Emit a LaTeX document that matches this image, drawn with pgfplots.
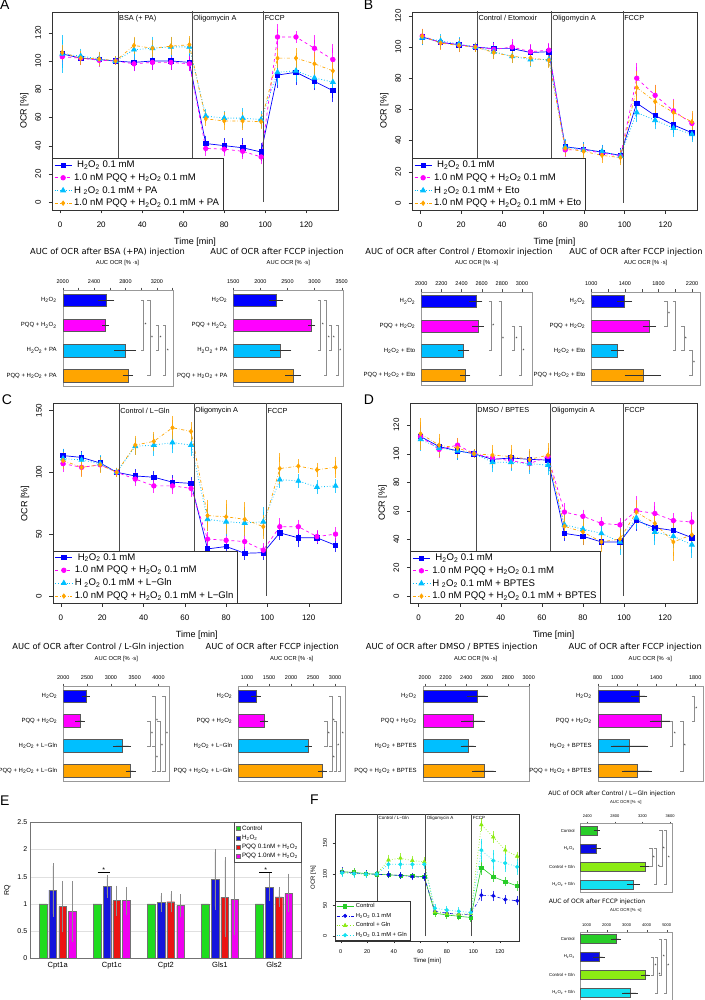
\documentclass[border=0pt]{standalone}
\usepackage{fontspec}
\setmainfont{Liberation Sans}
\newfontfamily\dv{DejaVu Sans}
\usepackage{pgfplots}
\usepackage{pgfplotstable}
\pgfplotsset{compat=1.18}

\definecolor{cB}{RGB}{0,0,255}
\definecolor{cM}{RGB}{255,0,255}
\definecolor{cC}{RGB}{0,191,255}
\definecolor{cO}{RGB}{255,165,0}
\definecolor{fG}{RGB}{40,205,40}
\definecolor{fB}{RGB}{10,10,230}
\definecolor{fY}{RGB}{140,235,20}
\definecolor{fC}{RGB}{20,225,240}
\definecolor{eG}{RGB}{30,220,30}
\definecolor{eB}{RGB}{20,20,220}
\definecolor{eR}{RGB}{235,20,20}
\definecolor{eM}{RGB}{240,0,240}

\newcommand\fs[1]{\fontsize{#1}{#1}\selectfont}
\newcommand\HH{H\textsubscript{2}O\textsubscript{2}}

% OCR time courses: t, then value/error for the four series
\pgfplotstableread{
t a ae b be c ce d de
1 105 2.5 103 2.5 105 10 106 2
10 102 1.5 102 1.5 103.5 2 102 2
19 101 1.5 100.5 1.5 101.5 2 101.5 2
27 100 0 100 0 100 0 100 0
36 99 3 98 2 108 5 111 3
45 100 3 99 2 109 5 109 3
54 100 3 99 2 110 4 110.5 3
63 99 3 98 2 110 3 111.5 3
71 41.5 2.5 38 2 61 2 59 2
80 40 2 37.5 2 59.5 2 57.5 3
89 38.5 3.5 36 2 59.5 4 57.5 3
98 35.5 3.5 32 2 58.5 3 57 2
106 90 6 117 6 92 6 102 4
115 92 6 117 1 93 5 102 4
124 85.5 3 109 6 88 4 98 5
133 79 5 101 8 85 4 93 4
}\tA
\pgfplotstableread{
t a ae b be c ce d de
1 106.5 2 107 2 106 2 107 2
10 103 1.5 103 1.5 104 1.5 102.5 1.5
19 101.5 1.5 101.5 1.5 102 1.5 101 1.5
27 100 0 100 0 100 0 100 0
36 99 1.5 98.5 1.5 97 1.5 96.5 1.5
45 99 1.5 100 2 94 1.5 94 1.5
54 96.5 2 97 2 92 2 93 2
63 97 2 98 2 92 2 91.5 2
71 36 1.5 34 1.5 36 2 35 2
80 34.5 1.5 34 1.5 34 2 33 2
89 32.5 1.5 32 1.5 33 1.5 30.5 2
98 30.5 1.5 30 1.5 30 1.5 29 2
106 64 6 80 7 58 3 74 8
115 56 3 69 4 53 3 65 8
124 50 2 59 5 48 3 58 5
133 45 2 51 4 44 2 52 4
}\tB
\pgfplotstableread{
t a ae b be c ce d de
1 113.5 2 107 3 111 4 109.5 3
10 112 1.5 104 3 110 3 104 4
19 107.5 2 106 2 107 3 106 3
27 100 0 100 0 100 0 100 0
36 97 2 94.5 2 121 3 122 4
45 96 1.5 89 2 122 5 125 4
54 92 2 89 3 124 5 136 6
63 91 1.5 87 3 122 5 133 4
71 38 4 46 2 62 6 65 9
80 40 2 45 2 60 8 64 10
89 34.5 1.5 44 2 59 7 62 10
98 35 2 37 2 60 8 56 6
106 51 2 56 3 94 3 103 9
115 47 4 56 2 93 2 105 2
124 47 1.5 48 1.5 88 2 102 2
133 41 2 50 2 89 2 104 5
}\tC
\pgfplotstableread{
t a ae b be c ce d de
1 112 5 112 4 110 5 114 8
10 105 3 103 3 104 3 106 5
19 102 3 106 2 102 3 104 4
27 100 0 100 0 100 0 100 0
36 96 3 97 2 94 4 99 4
45 97 3 95 3 94 3 98 5
54 96 3 93 3 93 4 96 4
63 95.5 3 98 3 92 4 99 5
71 44 2 59 3 50 5 49 5
80 42 3 56 1.5 47 4 45 6
89 38 2 51 1.5 44 4 38 4
98 38 2 50 1.5 38 6 40 4
106 53 4 60 7 55 5 59 5
115 48 4 58 5 45 6 51 5
124 46 3 53 2 42 5 38 10
133 41 3 52 4 36 6 43 5
}\tD
\pgfplotstableread{
t a ae b be c ce d de
1 104 2 104 3 103 2 102 2
10 103 2 102 2 102 2 101 2
19 101 1 100.5 1 100 1 100 1
27 100 0 100 0 100 0 100 0
36 99 1 99 1 123 4 116 3
45 98 1 98 1 126 3 116 3
54 97 1 96 1 122 3 116 3
63 96 1 95 2 120 3 116 3
71 37 2 40 2 39 2 45 2
80 34 2 37 2 36 2 42 2
89 32 2 35 2 35 2 40 2
98 30 2 35 2 36 2 38 2
106 111 7 66 5 180 6 139 14
115 96 4 65 4 160 5 122 13
124 88 3 59 3 139 4 118 10
133 81 3 57 3 129 3 112 8
}\tF

\tikzset{
  lab/.style={anchor=west, font=\fs{7.3}, inner sep=1pt},
  vln/.style={black!70, line width=0.5pt},
}
\pgfplotsset{
  every axis/.append style={/pgf/number format/assume math mode=true,
    /pgf/number format/1000 sep={}, scaled ticks=false},
  ocr/.style={scale only axis, anchor=north west, xmin=-4, xmax=135.5,
    xtick={0,20,...,120}, tick align=outside, tick pos=left,
    major tick length=3.5pt, axis line style={black!80}, tick style={black!80},
    tick label style={font=\fs{8}}, yticklabel style={rotate=90, anchor=south},
    xticklabel shift=5pt, yticklabel shift=4pt,
    xlabel={Time [min]}, ylabel={OCR [\%]}, label style={font=\fs{9}},
    xlabel style={yshift=-3pt},
    legend cell align=left,
    legend style={at={(0,0)}, anchor=south west, draw=black!80, font=\fs{9.6},
      inner ysep=0.5pt, inner xsep=2pt, row sep=0.5pt}},
  eb/.style 2 args={/pgfplots/error bars/y dir=both, /pgfplots/error bars/y explicit,
    /pgfplots/error bars/error bar style={#1, solid, opacity=0.8, line width=0.8pt},
    /pgfplots/error bars/error mark options={#1, solid, opacity=0.8, mark size=#2, line width=0.8pt}},
  s1/.style={cB, solid, line width=0.7pt, mark=square*, mark size=2.2pt, mark options={solid}, eb={cB}{4.5pt}},
  s2/.style={cM, dashed, line width=0.7pt, mark=*, mark size=2.3pt, mark options={solid}, eb={cM}{4.5pt}},
  s3/.style={cC, dotted, line width=0.8pt, mark=triangle*, mark size=2.8pt, mark options={solid}, eb={cC}{4.5pt}},
  s4/.style={cO, dash dot, line width=0.7pt, mark=diamond*, mark size=2.2pt, mark options={solid}, eb={cO}{4.5pt}},
  f1/.style={fG, solid, line width=0.6pt, mark=square*, mark size=1.6pt, mark options={solid}, eb={fG}{2.8pt}},
  f2/.style={fB, dash dot, line width=0.6pt, mark=*, mark size=1.7pt, mark options={solid}, eb={fB}{2.8pt}},
  f3/.style={fY, dotted, line width=0.7pt, mark=triangle*, mark size=2pt, mark options={solid}, eb={fY}{2.8pt}},
  f4/.style={fC, dotted, line width=0.7pt, mark=*, mark size=1.7pt, mark options={solid}, eb={fC}{2.8pt}},
  auc/.style={xbar, scale only axis, anchor=north west, y dir=reverse, ymin=0.6, ymax=4.4,
    ytick={1,2,3,4}, tick align=outside, xtick pos=right, xticklabel pos=right,
    ytick style={draw=none}, axis line style={black!40}, xtick style={black!70},
    major tick length=2.5pt, xticklabel style={font=\fs{5.5}}, yticklabel style={font=\fs{6}}},
  bb/.style={fill=#1, draw=black!65, line width=0.4pt, bar shift=0pt, bar width=0.5,
    /pgfplots/error bars/x dir=both, /pgfplots/error bars/x explicit,
    /pgfplots/error bars/error bar style={black!80, line width=0.45pt},
    /pgfplots/error bars/error mark options={black!80, mark size=2.5pt, line width=0.45pt}},
  ebar/.style={fill=#1, draw=black!55, line width=0.35pt, bar width=0.142,
    legend image code/.code={\draw[fill=#1, draw=black!55, line width=0.35pt] (0pt,-2pt) rectangle (4pt,2pt);}},
  eeb/.style={/pgfplots/error bars/y dir=both, /pgfplots/error bars/y explicit,
    /pgfplots/error bars/error bar style={black!45, line width=0.5pt},
    /pgfplots/error bars/error mark options={black!45, mark size=3pt, line width=0.5pt}},
}

% significance bracket: x, from bar, to bar, mark
\newcommand\brk[4]{%
  \draw[black!45, line width=0.4pt] ([xshift=-2.5pt]axis cs:#1,#2) -- (axis cs:#1,#2)
    -- (axis cs:#1,#3) -- ([xshift=-2.5pt]axis cs:#1,#3);
  \path (axis cs:#1,#2) -- (axis cs:#1,#3) node[midway, xshift=2.2pt, font=\fs{5}, inner sep=0pt] {#4};}

\begin{document}
\begin{tikzpicture}
\path[use as bounding box] (0pt,0pt) rectangle (704pt,-1000pt);

% panel letters
\node[font=\fs{14}, anchor=base west, inner sep=0pt] at (0pt,-10pt) {A};
\node[font=\fs{14}, anchor=base west, inner sep=0pt] at (363.7pt,-10pt) {B};
\node[font=\fs{14}, anchor=base west, inner sep=0pt] at (1.7pt,-404pt) {C};
\node[font=\fs{14}, anchor=base west, inner sep=0pt] at (363.7pt,-404pt) {D};
\node[font=\fs{14}, anchor=base west, inner sep=0pt] at (0pt,-805pt) {E};
\node[font=\fs{14}, anchor=base west, inner sep=0pt] at (310pt,-804pt) {F};

% ---------- A ----------
\begin{axis}[ocr, at={(52pt,-12pt)}, width=286pt, height=198pt,
  ymin=-5.6, ymax=134.7, ytick={0,20,...,120}]
\addplot[s1] table[x=t,y=a,y error=ae]{\tA}; \addlegendentry{\hspace{3pt}\HH{} 0.1 mM}
\addplot[s2] table[x=t,y=b,y error=be]{\tA}; \addlegendentry{1.0 nM PQQ + \HH{} 0.1 mM}
\addplot[s3] table[x=t,y=c,y error=ce]{\tA}; \addlegendentry{H \textsubscript{2}O\textsubscript{2} 0.1 mM + PA}
\addplot[s4] table[x=t,y=d,y error=de]{\tA}; \addlegendentry{1.0 nM PQQ + \HH{} 0.1 mM + PA}
\draw[vln] (axis cs:28.2,0) -- (axis cs:28.2,140) (axis cs:64.4,0) -- (axis cs:64.4,140) (axis cs:99.2,0) -- (axis cs:99.2,140);
\node[lab] at (axis cs:28.2,130.2) {BSA (+ PA)};
\node[lab] at (axis cs:64.4,130.2) {Oligomycin A};
\node[lab] at (axis cs:99.2,130.2) {FCCP};
\end{axis}

% ---------- B ----------
\begin{axis}[ocr, at={(412pt,-12pt)}, width=285pt, height=198pt,
  ymin=-4.6, ymax=122.5, ytick={0,20,...,120}]
\addplot[s1] table[x=t,y=a,y error=ae]{\tB}; \addlegendentry{\hspace{3pt}\HH{} 0.1 mM}
\addplot[s2] table[x=t,y=b,y error=be]{\tB}; \addlegendentry{1.0 nM PQQ + \HH{} 0.1 mM}
\addplot[s3] table[x=t,y=c,y error=ce]{\tB}; \addlegendentry{H \textsubscript{2}O\textsubscript{2} 0.1 mM + Eto}
\addplot[s4] table[x=t,y=d,y error=de]{\tB}; \addlegendentry{1.0 nM PQQ + \HH{} 0.1 mM + Eto}
\draw[vln] (axis cs:28,0) -- (axis cs:28,130) (axis cs:64.3,0) -- (axis cs:64.3,130) (axis cs:99.3,0) -- (axis cs:99.3,130);
\node[lab] at (axis cs:28,118.5) {Control / Etomoxir};
\node[lab] at (axis cs:64.3,118.5) {Oligomycin A};
\node[lab] at (axis cs:99.3,118.5) {FCCP};
\end{axis}

% ---------- C ----------
\begin{axis}[ocr, at={(52.7pt,-403.5pt)}, width=288pt, height=199.5pt,
  ymin=-5.7, ymax=155.6, ytick={0,50,100,150}]
\addplot[s1] table[x=t,y=a,y error=ae]{\tC}; \addlegendentry{\hspace{3pt}\HH{} 0.1 mM}
\addplot[s2] table[x=t,y=b,y error=be]{\tC}; \addlegendentry{1.0 nM PQQ + \HH{} 0.1 mM}
\addplot[s3] table[x=t,y=c,y error=ce]{\tC}; \addlegendentry{H \textsubscript{2}O\textsubscript{2} 0.1 mM + L−Gln}
\addplot[s4] table[x=t,y=d,y error=de]{\tC}; \addlegendentry{1.0 nM PQQ + \HH{} 0.1 mM + L−Gln}
\draw[vln] (axis cs:28.2,0) -- (axis cs:28.2,160) (axis cs:64.4,0) -- (axis cs:64.4,160) (axis cs:99.5,0) -- (axis cs:99.5,160);
\node[lab] at (axis cs:28.2,149.7) {Control / L−Gln};
\node[lab] at (axis cs:64.4,149.7) {Oligomycin A};
\node[lab] at (axis cs:99.5,149.7) {FCCP};
\end{axis}

% ---------- D ----------
\begin{axis}[ocr, at={(410.3pt,-403pt)}, width=286.7pt, height=200pt,
  ymin=-4.9, ymax=135.6, ytick={0,20,...,120}]
\addplot[s1] table[x=t,y=a,y error=ae]{\tD}; \addlegendentry{\hspace{3pt}\HH{} 0.1 mM}
\addplot[s2] table[x=t,y=b,y error=be]{\tD}; \addlegendentry{1.0 nM PQQ + \HH{} 0.1 mM}
\addplot[s3] table[x=t,y=c,y error=ce]{\tD}; \addlegendentry{H \textsubscript{2}O\textsubscript{2} 0.1 mM + BPTES}
\addplot[s4] table[x=t,y=d,y error=de]{\tD}; \addlegendentry{1.0 nM PQQ + \HH{} 0.1 mM + BPTES}
\draw[vln] (axis cs:28,0) -- (axis cs:28,140) (axis cs:64.2,0) -- (axis cs:64.2,140) (axis cs:99.8,0) -- (axis cs:99.8,140);
\node[lab] at (axis cs:28,130.5) {DMSO / BPTES};
\node[lab] at (axis cs:64.2,130.5) {Oligomycin A};
\node[lab] at (axis cs:99.8,130.5) {FCCP};
\end{axis}

% ---------- bar chart titles ----------
\node[font=\dv\fs{8.3}] at (107.5pt,-252pt) {AUC of OCR after BSA (+PA) injection};
\node[font=\fs{5.8}] at (117.5pt,-263pt) {AUC OCR [\% ·s]};
\node[font=\dv\fs{8.3}] at (277pt,-252pt) {AUC of OCR after FCCP injection};
\node[font=\fs{5.8}] at (288.3pt,-263pt) {AUC OCR [\% ·s]};
\node[font=\dv\fs{8.3}] at (459pt,-252pt) {AUC of OCR after Control / Etomoxir injection};
\node[font=\fs{5.8}] at (476.7pt,-263pt) {AUC OCR [\% ·s]};
\node[font=\dv\fs{8.3}] at (636pt,-252pt) {AUC of OCR after FCCP injection};
\node[font=\fs{5.8}] at (645.7pt,-263pt) {AUC OCR [\% ·s]};
\node[font=\dv\fs{8.3}] at (98.3pt,-647.3pt) {AUC of OCR after Control / L-Gln injection};
\node[font=\fs{5.8}] at (116.3pt,-659pt) {AUC OCR [\% ·s]};
\node[font=\dv\fs{8.3}] at (272.3pt,-647.3pt) {AUC of OCR after FCCP injection};
\node[font=\fs{5.8}] at (291.7pt,-659pt) {AUC OCR [\% ·s]};
\node[font=\dv\fs{8.3}] at (451.7pt,-647.3pt) {AUC of OCR after DMSO / BPTES injection};
\node[font=\fs{5.8}] at (475.7pt,-659pt) {AUC OCR [\% ·s]};
\node[font=\dv\fs{8.3}] at (635.3pt,-647.3pt) {AUC of OCR after FCCP injection};
\node[font=\fs{5.8}] at (650.3pt,-659pt) {AUC OCR [\% ·s]};
\node[font=\dv\fs{6}] at (611.7pt,-794pt) {AUC of OCR after Control / L−Gln injection};
\node[font=\fs{4.2}] at (625.8pt,-802.3pt) {AUC OCR [\% ·s]};
\node[font=\dv\fs{6}] at (597pt,-902.3pt) {AUC of OCR after FCCP injection};
\node[font=\fs{4.2}] at (625.8pt,-910.7pt) {AUC OCR [\% ·s]};

% ---------- A bars ----------
\begin{axis}[auc, at={(62.7pt,-290pt)}, width=110.6pt, height=95.7pt, xmin=2000, xmax=3409,
  xtick={2000,2200,2400,2600,2800,3000,3200,3400}, xticklabels={2000,,2400,,2800,,3200,},
  yticklabels={\HH, PQQ + \HH, \HH{} + PA, PQQ + \HH{} + PA}]
\addplot[bb=cB] coordinates {(2553,1) +- (75,0)};
\addplot[bb=cM] coordinates {(2545,2) +- (10,0)};
\addplot[bb=cC] coordinates {(2796,3) +- (106,0)};
\addplot[bb=cO] coordinates {(2830,4) +- (34,0)};
\brk{3027}{1}{3}{*}\brk{3112}{1}{4}{*}\brk{3218}{2}{3}{*}\brk{3312}{2}{4}{*}
\end{axis}
\begin{axis}[auc, at={(233.3pt,-290pt)}, width=110pt, height=95.7pt, xmin=1500, xmax=3530,
  xtick={1500,2000,2500,3000,3500},
  yticklabels={\HH, PQQ + \HH, \HH{} + PA, PQQ + \HH{} + PA}]
\addplot[bb=cB] coordinates {(2287,1) +- (86,0)};
\addplot[bb=cM] coordinates {(2945,2) +- (20,0)};
\addplot[bb=cC] coordinates {(2373,3) +- (154,0)};
\addplot[bb=cO] coordinates {(2607,4) +- (100,0)};
\brk{3112}{1}{3}{*}\brk{3223}{1}{4}{*}\brk{3315}{2}{3}{*}\brk{3437}{2}{4}{*}
\end{axis}

% ---------- B bars ----------
\begin{axis}[auc, at={(421.3pt,-291.7pt)}, width=110.7pt, height=93.3pt, xmin=2000, xmax=3100,
  xtick={2000,2200,...,3000},
  yticklabels={\HH, PQQ + \HH, \HH{} + Eto, PQQ + \HH{} + Eto}]
\addplot[bb=cB] coordinates {(2543,1) +- (40,0)};
\addplot[bb=cM] coordinates {(2563,2) +- (33,0)};
\addplot[bb=cC] coordinates {(2421,3) +- (33,0)};
\addplot[bb=cO] coordinates {(2437,4) +- (26,0)};
\brk{2695}{1}{3}{*}\brk{2792}{1}{4}{*}\brk{2924}{2}{3}{*}\brk{2994}{2}{4}{*}
\end{axis}
\begin{axis}[auc, at={(591.3pt,-291.7pt)}, width=108.7pt, height=93.3pt, xmin=1000, xmax=2294,
  xtick={1000,1200,...,2200}, xticklabels={1000,,1400,,1800,,2200},
  yticklabels={\HH, PQQ + \HH, \HH{} + Eto, PQQ + \HH{} + Eto}]
\addplot[bb=cB] coordinates {(1396,1) +- (59,0)};
\addplot[bb=cM] coordinates {(1693,2) +- (48,0)};
\addplot[bb=cC] coordinates {(1313,3) +- (46,0)};
\addplot[bb=cO] coordinates {(1614,4) +- (188,0)};
\brk{1901}{1}{2}{*}\brk{2000}{1}{3}{}\brk{2100}{2}{3}{*}\brk{2198}{3}{4}{*}
\end{axis}

% ---------- C bars ----------
\begin{axis}[auc, at={(63.3pt,-686pt)}, width=106pt, height=94.7pt, xmin=2000, xmax=4227,
  xtick={2000,2500,...,4000},
  yticklabels={\HH, PQQ + \HH, \HH{} + L−Gln, PQQ + \HH{} + L−Gln}]
\addplot[bb=cB] coordinates {(2477,1) +- (25,0)};
\addplot[bb=cM] coordinates {(2351,2) +- (49,0)};
\addplot[bb=cC] coordinates {(3240,3) +- (133,0)};
\addplot[bb=cO] coordinates {(3416,4) +- (56,0)};
\brk{3821}{2}{3}{*}\brk{3926}{1}{3}{*}\brk{3926}{3}{4}{*}\brk{4031}{2}{4}{*}\brk{4136}{1}{4}{*}
\end{axis}
\begin{axis}[auc, at={(238.3pt,-686pt)}, width=106.7pt, height=94.7pt, xmin=800, xmax=3225,
  xtick={1000,1500,...,3000},
  yticklabels={\HH, PQQ + \HH, \HH{} + L−Gln, PQQ + \HH{} + L−Gln}]
\addplot[bb=cB] coordinates {(1202,1) +- (57,0)};
\addplot[bb=cM] coordinates {(1384,2) +- (45,0)};
\addplot[bb=cC] coordinates {(2391,3) +- (25,0)};
\addplot[bb=cO] coordinates {(2709,4) +- (45,0)};
\brk{2809}{2}{3}{*}\brk{2923}{1}{3}{*}\brk{2923}{3}{4}{*}\brk{3021}{2}{4}{*}\brk{3127}{1}{4}{*}
\end{axis}

% ---------- D bars ----------
\begin{axis}[auc, at={(422.7pt,-686pt)}, width=106pt, height=94.7pt, xmin=1980, xmax=3000,
  xtick={2000,2200,...,3000},
  yticklabels={\HH, PQQ + \HH, \HH{} + BPTES, PQQ + \HH{} + BPTES}]
\addplot[bb=cB] coordinates {(2506,1) +- (77,0)};
\addplot[bb=cM] coordinates {(2467,2) +- (90,0)};
\addplot[bb=cC] coordinates {(2419,3) +- (51,0)};
\addplot[bb=cO] coordinates {(2570,4) +- (93,0)};
\end{axis}
\begin{axis}[auc, at={(597.7pt,-686pt)}, width=105.3pt, height=94.7pt, xmin=800, xmax=1880,
  xtick={800,1000,...,1800}, xticklabels={800,1000,,1400,,1800},
  yticklabels={\HH, PQQ + \HH, \HH{} + BPTES, PQQ + \HH{} + BPTES}]
\addplot[bb=cB] coordinates {(1227,1) +- (56,0)};
\addplot[bb=cM] coordinates {(1449,2) +- (90,0)};
\addplot[bb=cC] coordinates {(1124,3) +- (167,0)};
\addplot[bb=cO] coordinates {(1200,4) +- (128,0)};
\brk{1569}{2}{3}{*}\brk{1672}{2}{4}{*}\brk{1788}{1}{2}{*}
\end{axis}

% ---------- E ----------
\begin{axis}[scale only axis, anchor=north west, at={(30.7pt,-822.3pt)}, width=270.3pt, height=136pt,
  xmin=0.5, xmax=5.5, ymin=0, ymax=2.5, ybar,
  xtick={1,2,3,4,5}, xticklabels={Cpt1a,Cpt1c,Cpt2,Gls1,Gls2},
  ytick={0,0.5,1,1.5,2,2.5}, yticklabels={0,0.5,1,1.5,2,2.5},
  ymajorgrids, grid style={black!12}, axis line style={black!55}, major tick length=0pt,
  tick label style={font=\fs{7}}, xticklabel style={font=\fs{7.5}},
  ylabel={RQ}, ylabel style={font=\fs{7}},
  legend cell align=left,
  legend style={at={(1,1)}, anchor=north east, draw=black!70, font=\fs{6.3},
    inner sep=1pt, row sep=-0.8pt}]
\addplot[ebar=eG, bar shift=-0.272] coordinates {(1,1) (2,1) (3,1) (4,1) (5,1)};
\addlegendentry{Control}
\addplot[ebar=eB, bar shift=-0.091, eeb] coordinates {(1,1.255) +- (0,0.44) (2,1.32) +- (0,0.15) (3,1.03) +- (0,0.12) (4,1.45) +- (0,0.5) (5,1.305) +- (0,0.2)};
\addlegendentry{\HH}
\addplot[ebar=eR, bar shift=0.091, eeb] coordinates {(1,0.95) +- (0,0.42) (2,1.06) +- (0,0.22) (3,1.04) +- (0,0.14) (4,1.12) +- (0,0.68) (5,1.13) +- (0,0.13)};
\addlegendentry{PQQ 0.1nM + \HH}
\addplot[ebar=eM, bar shift=0.272, eeb] coordinates {(1,0.86) +- (0,0.5) (2,1.06) +- (0,0.2) (3,0.97) +- (0,0.15) (4,1.09) +- (0,0.6) (5,1.2) +- (0,0.3)};
\addlegendentry{PQQ 1.0nM + \HH}
\draw[black] (axis cs:1.74,1.575) -- (axis cs:1.97,1.575);
\node[font=\fs{7}, inner sep=0pt] at (axis cs:1.85,1.63) {*};
\draw[black] (axis cs:4.73,1.575) -- (axis cs:4.96,1.575);
\node[font=\fs{7}, inner sep=0pt] at (axis cs:4.85,1.63) {*};
\end{axis}

% ---------- F ----------
\begin{axis}[ocr, at={(335pt,-814pt)}, width=184.3pt, height=126.7pt,
  xmin=-4.3, xmax=134.6, ymin=-7.6, ymax=197.4, ytick={0,50,100,150},
  tick label style={font=\fs{5.5}}, label style={font=\fs{6}}, major tick length=2.5pt,
  xticklabel shift=2.5pt, yticklabel shift=2pt, xlabel style={yshift=5pt},
  legend style={font=\fs{5.8}, inner xsep=1pt, row sep=0pt}]
\addplot[f1] table[x=t,y=a,y error=ae]{\tF}; \addlegendentry{Control}
\addplot[f2] table[x=t,y=b,y error=be]{\tF}; \addlegendentry{\HH{} 0.1 mM}
\addplot[f3] table[x=t,y=c,y error=ce]{\tF}; \addlegendentry{Control + Gln}
\addplot[f4] table[x=t,y=d,y error=de]{\tF}; \addlegendentry{\HH{} 0.1 mM + Gln}
\draw[vln] (axis cs:27.6,0) -- (axis cs:27.6,200) (axis cs:64,0) -- (axis cs:64,200) (axis cs:98.7,0) -- (axis cs:98.7,200);
\node[lab, font=\fs{4.5}] at (axis cs:27.6,190.4) {Control / L−Gln};
\node[lab, font=\fs{4.5}] at (axis cs:64,190.4) {Oligomycin A};
\node[lab, font=\fs{4.5}] at (axis cs:98.7,190.4) {FCCP};
\end{axis}

% ---------- F bars ----------
\begin{axis}[auc, at={(580pt,-823.3pt)}, width=91.7pt, height=68.4pt, xmin=2294, xmax=3623,
  xtick={2400,2800,3200,3600}, xticklabel style={font=\fs{4}}, yticklabel style={font=\fs{4.3}},
  major tick length=1.8pt,
  yticklabels={Control, \HH, Control + Gln, \HH{} + Gln}]
\addplot[bb=fG, /pgfplots/error bars/error mark options={black!80, mark size=1.8pt}] coordinates {(2536,1) +- (20,0)};
\addplot[bb=fB, /pgfplots/error bars/error mark options={black!80, mark size=1.8pt}] coordinates {(2526,2) +- (43,0)};
\addplot[bb=fY, /pgfplots/error bars/error mark options={black!80, mark size=1.8pt}] coordinates {(3240,3) +- (48,0)};
\addplot[bb=fC, /pgfplots/error bars/error mark options={black!80, mark size=1.8pt}] coordinates {(3067,4) +- (72,0)};
\brk{3333}{2}{3}{*}\brk{3405}{2}{4}{*}\brk{3478}{1}{3}{*}\brk{3550}{1}{4}{*}
\end{axis}
\begin{axis}[auc, at={(580pt,-931.7pt)}, width=91.7pt, height=68.3pt, xmin=670, xmax=5250,
  xtick={1000,2000,...,5000}, xticklabel style={font=\fs{4}}, yticklabel style={font=\fs{4.3}},
  major tick length=1.8pt,
  yticklabels={Control, \HH, Control + Gln, \HH{} + Gln}]
\addplot[bb=fG, /pgfplots/error bars/error mark options={black!80, mark size=1.8pt}] coordinates {(2465,1) +- (140,0)};
\addplot[bb=fB, /pgfplots/error bars/error mark options={black!80, mark size=1.8pt}] coordinates {(1615,2) +- (190,0)};
\addplot[bb=fY, /pgfplots/error bars/error mark options={black!80, mark size=1.8pt}] coordinates {(3950,3) +- (140,0)};
\addplot[bb=fC, /pgfplots/error bars/error mark options={black!80, mark size=1.8pt}] coordinates {(3165,4) +- (300,0)};
\brk{4333}{2}{3}{*}\brk{4533}{2}{4}{*}\brk{4750}{1}{3}{*}\brk{4967}{1}{4}{*}
\end{axis}

\end{tikzpicture}
\end{document}
